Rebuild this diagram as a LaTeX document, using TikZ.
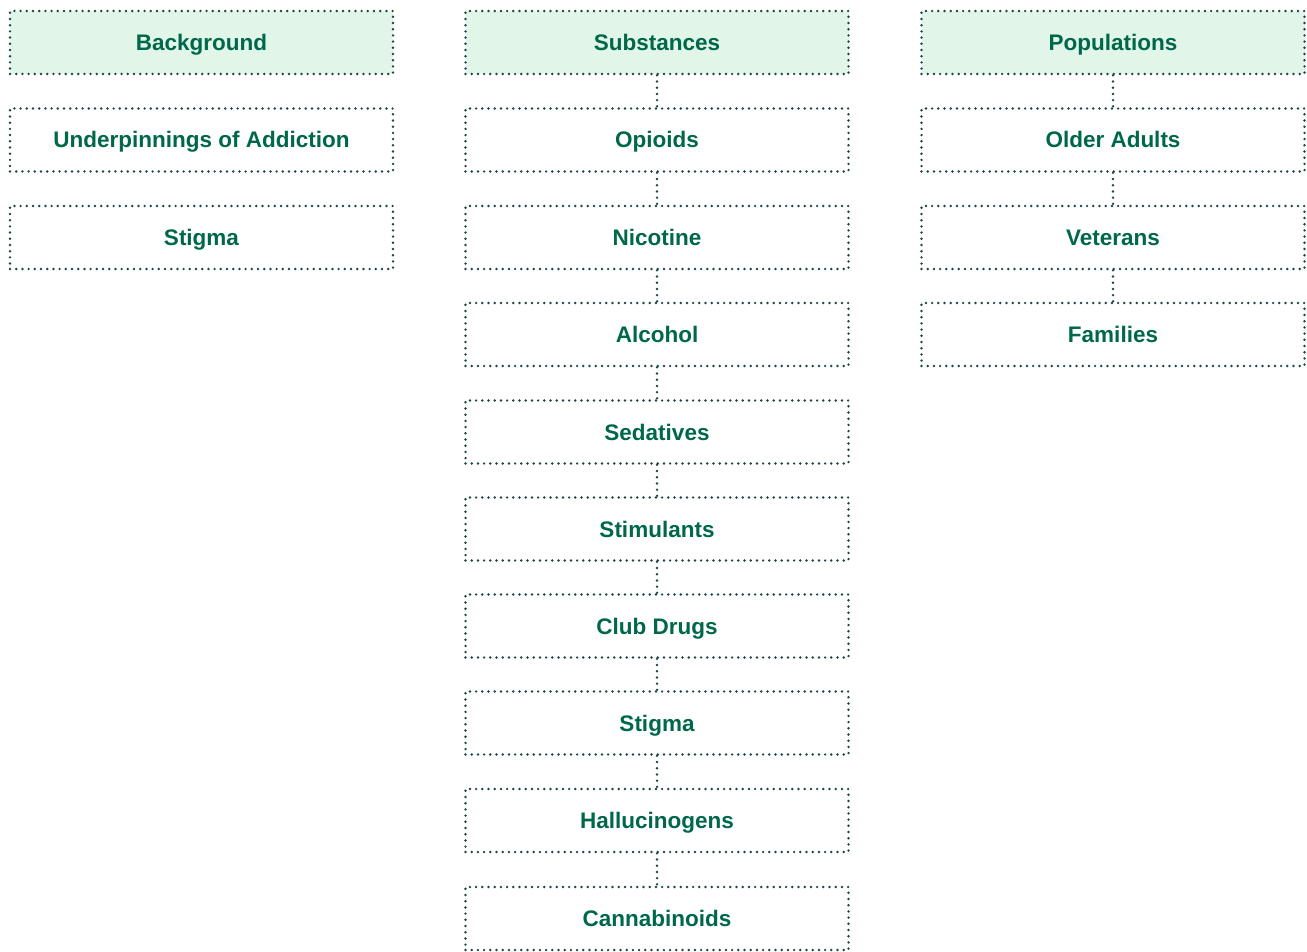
\documentclass[tikz,border=0pt]{standalone}
\usepackage{fontspec}
\setmainfont{Liberation Sans}
\definecolor{txtgreen}{HTML}{00684A}
\definecolor{boxfill}{HTML}{E1F5E8}
\definecolor{dotcol}{HTML}{1A4543}
\begin{document}
\begin{tikzpicture}[x=1pt,y=-1pt,
  box/.style={draw=dotcol, line width=2.7pt, dash pattern=on 0pt off 6.2pt, line cap=round,
    minimum width=383pt, minimum height=63pt, inner sep=0pt, text=txtgreen,
    text height=16pt, text depth=0pt,
    font=\fontsize{22.5}{26}\selectfont\bfseries},
  head/.style={box, fill=boxfill},
  link/.style={draw=dotcol, line width=2.7pt, dash pattern=on 0pt off 6.2pt, line cap=round}]
\useasboundingbox (0,0) rectangle (1307,952);
% column 1
\node[head] (bg) at (201.5,42.5) {Background};
\node[box] (under) at (201.5,140) {Underpinnings of Addiction};
\node[box] (stig1) at (201.5,237.5) {Stigma};
% column 2
\node[head] (sub) at (657,42.5) {Substances};
\node[box] (op) at (657,140) {Opioids};
\node[box] (nic) at (657,237.5) {Nicotine};
\node[box] (alc) at (657,334.5) {Alcohol};
\node[box] (sed) at (657,432) {Sedatives};
\node[box] (sti) at (657,529) {Stimulants};
\node[box] (club) at (657,626) {Club Drugs};
\node[box] (stig2) at (657,723) {Stigma};
\node[box] (hal) at (657,820.5) {Hallucinogens};
\node[box] (can) at (657,918.5) {Cannabinoids};
% column 3
\node[head] (pop) at (1113,42.5) {Populations};
\node[box] (old) at (1113,140) {Older Adults};
\node[box] (vet) at (1113,237.5) {Veterans};
\node[box] (fam) at (1113,334.5) {Families};
% connectors
\foreach \a/\b in {sub/op,op/nic,nic/alc,alc/sed,sed/sti,sti/club,club/stig2,stig2/hal,hal/can,pop/old,old/vet,vet/fam}
  \draw[link] (\a.south) -- (\b.north);
\end{tikzpicture}
\end{document}
